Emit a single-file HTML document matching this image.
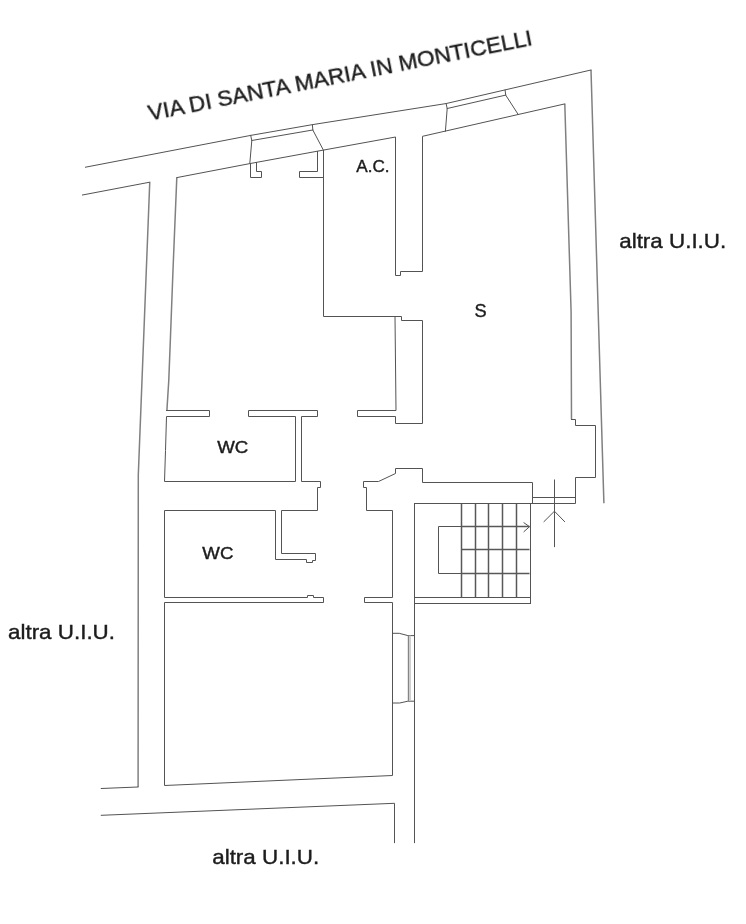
<!DOCTYPE html>
<html><head><meta charset="utf-8">
<style>
html,body{margin:0;padding:0;background:#fff;}
svg{display:block;}
text{font-family:"Liberation Sans",sans-serif;fill:#1c1c1c;stroke:#1c1c1c;stroke-width:0.4;}
.l{fill:none;stroke:#535353;stroke-width:1;stroke-linejoin:miter;stroke-linecap:square;}
.w{fill:none;stroke:#808080;stroke-width:1.5;stroke-linejoin:round;stroke-linecap:butt;}
.s{fill:none;stroke:#585858;stroke-width:1.5;stroke-linecap:butt;}
.g{fill:none;stroke:#8a8a8a;stroke-width:1.1;}
</style></head><body>
<svg width="746" height="924" viewBox="0 0 746 924">
<rect width="746" height="924" fill="#fff"/>
<path class="w" d="M591,70 L603.9,503.2 M149.75,182.2 L138.3,475 L138.1,787 M564.8,103.9 L571.1,312 L571.5,419.3 M176.8,177.6 L173,270 L170.35,340 L168.8,380 L166.9,410.4"/>
<path class="l" d="M85.5,167.2 L250.7,135.4 L312.4,124.65 L446.1,103.55 L591,70 M82.5,195 L149.75,182.2 M138.1,787 L101.3,788.5 M101.3,815.3 L394.5,803.3 L394.5,842.6 M414.5,503.5 L414.5,842.6 M176.8,177.6 L249.8,163.6 L323.4,150.1 L395.5,137 L395.5,275.5 L400.5,275.5 L400.5,271.5 L422.5,271.5 L422.5,136.3 L564.8,103.9 M166.5,410.5 L209.5,410.5 L209.5,416.5 L166.5,416.5 L165.5,450.5 L164.5,481.5 L295.5,481.5 L295.5,416.5 L248.5,416.5 L248.5,410.5 L317.5,410.5 L317.5,416.5 L301.5,416.5 L301.5,481.5 L320.5,481.5 L320.5,487.5 L317.5,487.5 L317.5,510.5 L281.5,510.5 L281.5,553.5 L315.5,553.5 L315.5,560.5 L312.5,560.5 L312.5,562.5 L306.5,562.5 L306.5,559.5 L275.5,559.5 L275.5,510.5 L164.5,510.5 L164.5,597.5 L307.5,597.5 L307.5,595.5 L313.5,595.5 L313.5,597.5 L323.5,597.5 L323.5,602.5 L164.5,602.5 L164.5,785.5 L392.5,775.5 L392.5,602.5 L364.5,602.5 L364.5,597.5 L392.5,597.5 L392.5,510.5 L366.5,510.5 L366.5,487.5 L363.5,487.5 L363.5,481.5 L378.5,481.5 L395.5,473.5 L395.5,468.5 L422.5,468.5 L422.5,482.5 L532.5,482.5 L532.5,503.5 L575.5,503.5 L575.5,477.5 L595.5,477.5 L595.5,425.5 L575.5,425.5 L575.5,419.5 L571.5,419.5 M323.5,150.5 L323.5,316.5 L395.5,316.5 M395.5,316.5 L401.5,316.5 L401.5,320.5 L422.5,320.5 L422.5,423.5 L395.5,423.5 L395.5,416.5 L357.5,416.5 L357.5,410.5 L395.5,410.5 Z M250.5,163.5 L250.5,177.5 L261.5,177.5 L261.5,171.5 L256.5,171.5 L256.5,162.5 M317.5,151.5 L317.5,171.5 L299.5,171.5 L299.5,177.5 L323.5,177.5 M250.7,135.4 L251.8,140.5 L249.8,163.5 M312.4,124.65 L312.8,130 L323.4,150.1 M251.8,140.5 L312.8,130 M446.1,103.55 L447.2,108.5 L445.4,131.2 M505.1,90.15 L505.7,95.1 L518.2,114.5 M447.2,108.5 L505.7,95.1 M532.5,497.5 L575.5,497.5 M414.5,503.5 L532.5,503.5 M530.5,503.5 L530.5,603.5 M414.5,597.5 L530.5,597.5 M414.5,603.5 L530.5,603.5 M461.5,526.5 L438.5,526.5 L438.5,573.5 L461.5,573.5 M524,522.8 L529.5,526.7 L524,531.6 M554.5,480 L554.5,546.6 M544,521.6 L554.45,511.2 L564.6,521.6 M392.5,633.3 L399.2,633.3 L407.9,635.6 L414.5,635.6 M392.5,703 L399.7,703 L407.9,701.2 L414.5,701.2"/>
<path class="s" d="M461.5,526.5 L529.5,526.5 M461.5,549.5 L529.5,549.5 M461.5,573.5 L529.5,573.5 M461.5,503.5 L461.5,597.5 M475.5,503.5 L475.5,597.5 M488.5,503.5 L488.5,597.5 M502.5,503.5 L502.5,597.5 M516.5,503.5 L516.5,597.5"/>
<path d="M410,635.6 V701" fill="none" stroke="#c4c4c4" stroke-width="1.6"/><path d="M408.4,635.6 V701" fill="none" stroke="#858585" stroke-width="1.2"/>
<g opacity="0.999">
<text font-size="22.67" transform="translate(149.7,120.6) rotate(-11.17)">VIA DI SANTA MARIA IN MONTICELLI</text>
<text font-size="21.1" transform="translate(619.2,248.1) scale(1.062,1)">altra U.I.U.</text>
<text font-size="21.1" transform="translate(8,639.3) scale(1.062,1)">altra U.I.U.</text>
<text font-size="21.1" transform="translate(212.2,863.5) scale(1.062,1)">altra U.I.U.</text>
<text font-size="17.1" transform="translate(356.3,171.8)">A.C.</text>
<text font-size="18.2" transform="translate(474.6,316.85)">S</text>
<text font-size="16.25" transform="translate(217.2,452.9) scale(1.148,1)">WC</text>
<text font-size="16.25" transform="translate(202.3,558.9) scale(1.148,1)">WC</text>
</g>
</svg>
</body></html>
